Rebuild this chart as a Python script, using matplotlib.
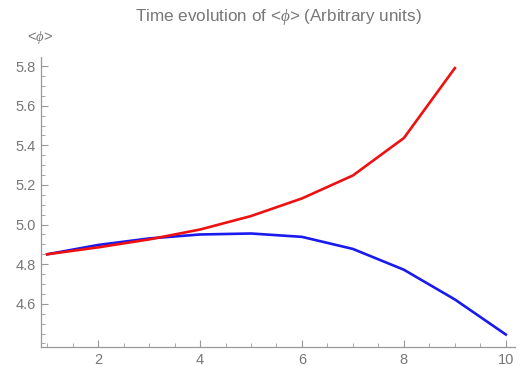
import matplotlib
matplotlib.use("Agg")
import matplotlib.pyplot as plt
from matplotlib.ticker import MultipleLocator

# data
t_red = [1, 2, 3, 4, 5, 6, 7, 8, 9]
phi_red = [4.85, 4.885, 4.925, 4.975, 5.043, 5.132, 5.248, 5.437, 5.79]
t_blue = [1, 2, 3, 4, 5, 6, 7, 8, 9, 10]
phi_blue = [4.85, 4.897, 4.93, 4.95, 4.955, 4.938, 4.877, 4.772, 4.622, 4.445]
title = "Time evolution of <$\\phi$> (Arbitrary units)"
ylab = "<$\\phi$>"

plt.rcParams['font.family'] = ['Liberation Sans', 'DejaVu Sans']
plt.rcParams['mathtext.fontset'] = 'custom'
plt.rcParams['mathtext.it'] = 'Liberation Serif:italic'

W, H = 523, 366
fig = plt.figure(figsize=(W/100, H/100), dpi=100)
ax = fig.add_axes([41/W, 19/H, 474/W, 290/H])

ax.plot(t_red, phi_red, color='#ee1111', lw=1.9, zorder=3)
ax.plot(t_blue, phi_blue, color='#1a1aee', lw=1.9, zorder=2)

ax.set_xlim(0.88, 10.18)
ax.set_ylim(4.382, 5.846)

gray = '#999999'
for s in ['top', 'right']:
    ax.spines[s].set_visible(False)
for s in ['left', 'bottom']:
    ax.spines[s].set_color(gray)
    ax.spines[s].set_linewidth(0.9)

ax.xaxis.set_major_locator(MultipleLocator(2))
ax.xaxis.set_minor_locator(MultipleLocator(0.5))
ax.yaxis.set_major_locator(MultipleLocator(0.2))
ax.yaxis.set_minor_locator(MultipleLocator(0.05))
ax.set_yticks([4.6, 4.8, 5.0, 5.2, 5.4, 5.6, 5.8])
ax.set_yticklabels(["4.6", "4.8", "5.0", "5.2", "5.4", "5.6", "5.8"])
ax.tick_params(which='major', direction='in', length=5, width=0.8, color=gray,
               labelcolor='#777777', labelsize=10.5, pad=4)
ax.tick_params(which='minor', direction='in', length=3, width=0.6, color=gray)

fig.text(278/W, 1 - 17/H, title, ha='center', va='center', fontsize=12.3, color='#777777')
fig.text(40/W, 1 - 38/H, ylab, ha='center', va='center', fontsize=10.5, color='#777777')

fig.savefig("out.png", dpi=100)
